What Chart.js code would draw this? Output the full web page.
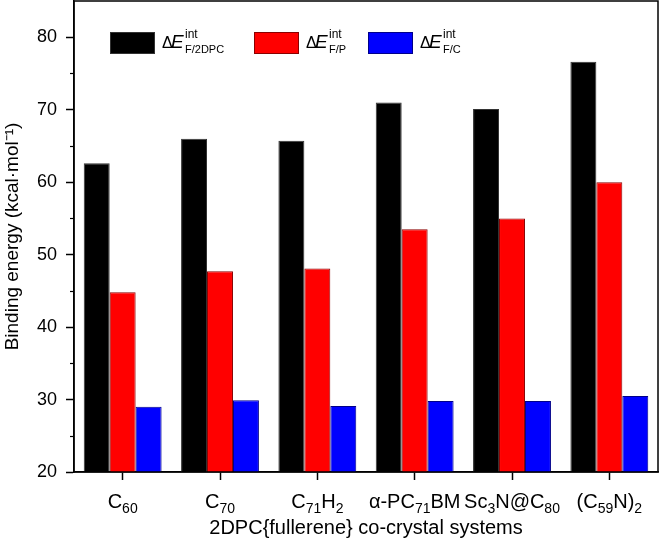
<!DOCTYPE html>
<html>
<head>
<meta charset="utf-8">
<script src="https://cdn.jsdelivr.net/npm/chart.js@4.4.1/dist/chart.umd.min.js"></script>
<style>
  html, body { margin: 0; padding: 0; background: #fff; }
</style>
</head>
<body>
<canvas id="dispChart" width="660" height="543"></canvas>
<script>
  // categories, _{..} marks a subscript
  const categories = ['C_{60}', 'C_{70}', 'C_{71}H_{2}', 'α-PC_{71}BM', 'Sc_{3}N@C_{80}', '(C_{59}N)_{2}'];
  const seriesSubs = ['F/2DPC', 'F/P', 'F/C'];
  const valsF2DPC = [62.6, 66.0, 65.7, 71.0, 70.1, 76.6];
  const valsFP = [44.8, 47.7, 48.1, 53.5, 55.0, 60.0];
  const valsFC = [29.0, 29.9, 29.1, 29.8, 29.8, 30.5];
  const yTicks = [20, 30, 40, 50, 60, 70, 80];

  const fillColors = ['#000000', '#ff0000', '#0000ff'];
  const edgeColors = ['#333333', '#8a0000', '#00008a'];
  const FONT = "'Liberation Sans', Arial, Helvetica, sans-serif";

  function parseRich(s) {
    const parts = [];
    const re = /_\{([^}]*)\}/g;
    let last = 0, m;
    while ((m = re.exec(s)) !== null) {
      if (m.index > last) parts.push({ t: s.slice(last, m.index), sub: false });
      parts.push({ t: m[1], sub: true });
      last = re.lastIndex;
    }
    if (last < s.length) parts.push({ t: s.slice(last), sub: false });
    return parts;
  }

  function drawRich(ctx, s, cx, baseY, size, subSize) {
    const parts = parseRich(s);
    let w = 0;
    parts.forEach(p => {
      ctx.font = (p.sub ? subSize : size) + 'px ' + FONT;
      p.w = ctx.measureText(p.t).width;
      w += p.w;
    });
    let x = cx - w / 2;
    ctx.textAlign = 'left';
    ctx.textBaseline = 'alphabetic';
    parts.forEach(p => {
      ctx.font = (p.sub ? subSize : size) + 'px ' + FONT;
      ctx.fillText(p.t, x, p.sub ? baseY + 5 : baseY);
      x += p.w;
    });
  }

  const decorPlugin = {
    id: 'decor',
    afterDraw(chart) {
      const ctx = chart.ctx;
      const area = chart.chartArea;
      const xs = chart.scales.x;
      const ys = chart.scales.y;
      ctx.save();
      ctx.fillStyle = '#000';
      ctx.strokeStyle = '#000';

      // frame
      ctx.lineWidth = 1.5;
      ctx.strokeRect(area.left, area.top, area.right - area.left, area.bottom - area.top);

      // minor y ticks
      ctx.lineWidth = 1.2;
      for (let i = 0; i < yTicks.length - 1; i++) {
        const py = Math.round(ys.getPixelForValue((yTicks[i] + yTicks[i + 1]) / 2)) + 0.5;
        ctx.beginPath();
        ctx.moveTo(area.left - 4, py);
        ctx.lineTo(area.left, py);
        ctx.stroke();
      }

      // x labels with subscripts
      categories.forEach((c, i) => {
        drawRich(ctx, c, xs.getPixelForValue(i), area.bottom + 36, 20, 14);
      });

      // legend, boxes at fixed offsets from the plot's left edge
      const boxOffsets = [36, 180, 294];
      const ly = 32;
      chart.data.datasets.forEach((ds, i) => {
        const lx = area.left + boxOffsets[i];
        ctx.fillStyle = fillColors[i];
        ctx.fillRect(lx, ly, 45, 22);
        ctx.lineWidth = 1;
        ctx.strokeStyle = edgeColors[i];
        ctx.strokeRect(lx + 0.5, ly + 0.5, 44, 21);
        ctx.fillStyle = '#000';
        ctx.textAlign = 'left';
        ctx.textBaseline = 'alphabetic';
        const tx = lx + 52;
        ctx.font = '16px ' + FONT;
        ctx.fillText('Δ', tx, 48);
        ctx.font = 'italic 19px ' + FONT;
        ctx.fillText('E', tx + 9, 48);
        ctx.font = '12px ' + FONT;
        ctx.fillText('int', tx + 23, 38);
        ctx.font = '11px ' + FONT;
        ctx.fillText(seriesSubs[i], tx + 23, 53);
      });
      ctx.restore();
    }
  };

  const data = {
    labels: categories,
    datasets: [valsF2DPC, valsFP, valsFC].map((vals, i) => ({
      label: 'ΔE int ' + seriesSubs[i],
      data: vals,
      backgroundColor: fillColors[i],
      borderColor: edgeColors[i],
      borderWidth: 1,
      categoryPercentage: 0.8,
      barPercentage: 1.0
    }))
  };

  const config = {
    type: 'bar',
    data: data,
    options: {
      responsive: false,
      animation: false,
      devicePixelRatio: 1,
      layout: { autoPadding: false, padding: { top: 1, right: 2, left: 0, bottom: 0 } },
      plugins: {
        legend: { display: false },
        title: { display: false },
        tooltip: { enabled: false }
      },
      scales: {
        x: {
          afterFit: (scale) => {
            scale.height = 71;
            scale.paddingLeft = 0; scale.paddingRight = 0;
          },
          grid: { display: true, drawOnChartArea: false, offset: false, tickLength: 8, tickColor: '#000', tickWidth: 1.5 },
          border: { display: true, color: '#000', width: 1.5 },
          ticks: { display: false },
          title: {
            display: true,
            text: '2DPC{fullerene} co-crystal systems',
            color: '#000',
            font: { family: FONT, size: 20 },
            padding: { top: 0, bottom: 3 }
          }
        },
        y: {
          min: 20,
          max: 85,
          afterFit: (scale) => {
            scale.width = 74;
            scale.paddingTop = 0; scale.paddingBottom = 0;
          },
          afterBuildTicks: (scale) => { scale.ticks = yTicks.map(v => ({ value: v })); },
          grid: { display: true, drawOnChartArea: false, tickLength: 8, tickColor: '#000', tickWidth: 1.5 },
          border: { display: true, color: '#000', width: 1.5 },
          ticks: {
            color: '#000',
            padding: 9,
            font: { family: FONT, size: 18 },
            callback: (v) => String(v)
          },
          title: {
            display: true,
            text: 'Binding energy (kcal·mol⁻¹)',
            color: '#000',
            font: { family: FONT, size: 19 },
            padding: { top: 1, bottom: 0 }
          }
        }
      }
    },
    plugins: [decorPlugin]
  };

  const myChart = new Chart(document.getElementById('dispChart'), config);
</script>
</body>
</html>
